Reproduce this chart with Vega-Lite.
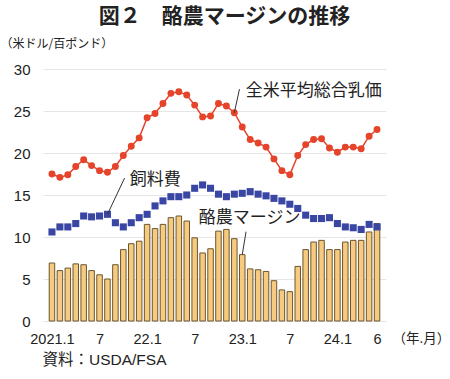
{
  "$schema": "https://vega.github.io/schema/vega-lite/v6.json",
  "width": 343,
  "height": 252,
  "autosize": {"type": "none"},
  "padding": {"left": 43, "top": 69, "right": 64, "bottom": 58},
  "background": "white",
  "title": {
    "text": "図２　酪農マージンの推移",
    "font": "Noto Sans CJK JP",
    "fontSize": 21,
    "fontWeight": "bold",
    "color": "#222222",
    "anchor": "middle",
    "dx": 10,
    "offset": 10
  },
  "config": {
    "view": {"stroke": null},
    "axis": {"labelFont": "Liberation Sans", "titleFont": "Noto Sans CJK JP"}
  },
  "datasets": {
    "main": [
      {"m": 1, "margin": 6.9, "feed": 10.6, "milk": 17.5},
      {"m": 2, "margin": 6.0, "feed": 11.2, "milk": 17.1},
      {"m": 3, "margin": 6.3, "feed": 11.2, "milk": 17.4},
      {"m": 4, "margin": 6.8, "feed": 11.6, "milk": 18.4},
      {"m": 5, "margin": 6.7, "feed": 12.5, "milk": 19.2},
      {"m": 6, "margin": 6.0, "feed": 12.4, "milk": 18.5},
      {"m": 7, "margin": 5.5, "feed": 12.5, "milk": 17.9},
      {"m": 8, "margin": 5.0, "feed": 12.7, "milk": 17.7},
      {"m": 9, "margin": 6.7, "feed": 11.7, "milk": 18.4},
      {"m": 10, "margin": 8.5, "feed": 11.2, "milk": 19.7},
      {"m": 11, "margin": 9.2, "feed": 11.7, "milk": 20.8},
      {"m": 12, "margin": 9.5, "feed": 12.3, "milk": 21.8},
      {"m": 13, "margin": 11.5, "feed": 12.7, "milk": 24.2},
      {"m": 14, "margin": 11.0, "feed": 13.7, "milk": 24.7},
      {"m": 15, "margin": 11.5, "feed": 14.3, "milk": 25.9},
      {"m": 16, "margin": 12.3, "feed": 14.8, "milk": 27.1},
      {"m": 17, "margin": 12.5, "feed": 14.8, "milk": 27.3},
      {"m": 18, "margin": 11.9, "feed": 15.0, "milk": 26.9},
      {"m": 19, "margin": 9.9, "feed": 15.8, "milk": 25.7},
      {"m": 20, "margin": 8.1, "feed": 16.2, "milk": 24.3},
      {"m": 21, "margin": 8.6, "feed": 15.8, "milk": 24.4},
      {"m": 22, "margin": 10.7, "feed": 15.1, "milk": 25.9},
      {"m": 23, "margin": 10.9, "feed": 14.8, "milk": 25.6},
      {"m": 24, "margin": 9.8, "feed": 15.1, "milk": 24.8},
      {"m": 25, "margin": 7.9, "feed": 15.2, "milk": 23.1},
      {"m": 26, "margin": 6.2, "feed": 15.4, "milk": 21.6},
      {"m": 27, "margin": 6.1, "feed": 15.1, "milk": 21.2},
      {"m": 28, "margin": 5.9, "feed": 14.9, "milk": 20.7},
      {"m": 29, "margin": 4.8, "feed": 14.6, "milk": 19.3},
      {"m": 30, "margin": 3.7, "feed": 14.3, "milk": 17.9},
      {"m": 31, "margin": 3.5, "feed": 13.9, "milk": 17.4},
      {"m": 32, "margin": 6.5, "feed": 13.4, "milk": 19.7},
      {"m": 33, "margin": 8.5, "feed": 12.6, "milk": 21.0},
      {"m": 34, "margin": 9.4, "feed": 12.2, "milk": 21.6},
      {"m": 35, "margin": 9.6, "feed": 12.2, "milk": 21.7},
      {"m": 36, "margin": 8.5, "feed": 12.3, "milk": 20.6},
      {"m": 37, "margin": 8.5, "feed": 11.6, "milk": 20.1},
      {"m": 38, "margin": 9.4, "feed": 11.2, "milk": 20.7},
      {"m": 39, "margin": 9.6, "feed": 11.1, "milk": 20.7},
      {"m": 40, "margin": 9.6, "feed": 10.9, "milk": 20.5},
      {"m": 41, "margin": 10.6, "feed": 11.5, "milk": 22.0},
      {"m": 42, "margin": 11.6, "feed": 11.2, "milk": 22.8}
    ],
    "labels": [
      {"lx": 25.44, "ly": 27.42, "text": "全米平均総合乳価"},
      {"lx": 10.81, "ly": 16.79, "text": "飼料費"},
      {"lx": 19.51, "ly": 12.23, "text": "酪農マージン"}
    ],
    "leaders": [
      {"x1": 24, "y1": 24.8, "x2": 24.65, "y2": 27.6},
      {"x1": 8, "y1": 12.7, "x2": 10.16, "y2": 17.02},
      {"x1": 25, "y1": 7.9, "x2": 25.48, "y2": 10.63}
    ]
  },
  "resolve": {"axis": {"y": "independent"}},
  "layer": [
    {
      "data": {"name": "main"},
      "mark": {"type": "bar", "width": 5.5, "fill": "#F6CB80", "stroke": "#6B5530", "strokeWidth": 1},
      "encoding": {
        "x": {
          "field": "m", "type": "quantitative",
          "scale": {"domain": [0.5, 42.5], "nice": false, "zero": false},
          "axis": {
            "orient": "bottom",
            "values": [1, 7, 13, 19, 25, 31, 37, 42],
            "labelExpr": "datum.value == 1 ? '2021.1' : datum.value == 13 ? '22.1' : datum.value == 25 ? '23.1' : datum.value == 37 ? '24.1' : datum.value == 42 ? '6' : '7'",
            "grid": false, "ticks": false, "domain": false,
            "labelFontSize": 14.5, "labelColor": "#222222", "labelPadding": 11, "labelFlush": false, "labelOverlap": false,
            "title": "（年.月）", "titleFontSize": 13.5, "titleFontWeight": "normal", "titleColor": "#222222",
            "titleAlign": "left", "titleBaseline": "middle", "titleX": 349, "titleY": 17
          }
        },
        "y": {
          "field": "margin", "type": "quantitative",
          "scale": {"domain": [0, 30], "nice": false},
          "axis": {
            "values": [0, 5, 10, 15, 20, 25, 30],
            "grid": true, "gridColor": "#e6e6e6", "ticks": false, "domain": false,
            "labelFontSize": 15, "labelColor": "#222222", "labelPadding": 13,
            "title": "（米ドル/百ポンド）", "titleFontSize": 12, "titleFontWeight": "normal", "titleColor": "#222222",
            "titleAngle": 0, "titleAlign": "left", "titleBaseline": "middle", "titleX": -43, "titleY": -26
          }
        }
      }
    },
    {
      "data": {"name": "main"},
      "mark": {"type": "line", "color": "#E5432A", "strokeWidth": 1.5},
      "encoding": {
        "x": {"field": "m", "type": "quantitative"},
        "y": {"field": "milk", "type": "quantitative", "axis": null}
      }
    },
    {
      "data": {"name": "main"},
      "mark": {"type": "circle", "color": "#E5432A", "size": 48, "opacity": 1},
      "encoding": {
        "x": {"field": "m", "type": "quantitative"},
        "y": {"field": "milk", "type": "quantitative", "axis": null}
      }
    },
    {
      "data": {"name": "main"},
      "mark": {"type": "square", "color": "#3A46A3", "size": 50, "opacity": 1},
      "encoding": {
        "x": {"field": "m", "type": "quantitative"},
        "y": {
          "field": "feed", "type": "quantitative",
          "axis": {
            "orient": "right", "labels": false, "ticks": false, "domain": false, "grid": false,
            "title": "資料：USDA/FSA", "titleFont": "Liberation Sans, Noto Sans CJK JP", "titleFontSize": 15.5, "titleFontWeight": "normal", "titleColor": "#222222",
            "titleAngle": 0, "titleAlign": "left", "titleBaseline": "middle", "titleX": -344, "titleY": 290
          }
        }
      }
    },
    {
      "data": {"name": "leaders"},
      "mark": {"type": "rule", "color": "#333333", "strokeWidth": 1},
      "encoding": {
        "x": {"field": "x1", "type": "quantitative"},
        "y": {"field": "y1", "type": "quantitative", "axis": null},
        "x2": {"field": "x2"},
        "y2": {"field": "y2"}
      }
    },
    {
      "data": {"name": "labels"},
      "mark": {"type": "text", "font": "Noto Sans CJK JP", "fontSize": 17, "align": "left", "baseline": "middle", "color": "#222222"},
      "encoding": {
        "x": {"field": "lx", "type": "quantitative"},
        "y": {"field": "ly", "type": "quantitative", "axis": null},
        "text": {"field": "text"}
      }
    }
  ]
}
